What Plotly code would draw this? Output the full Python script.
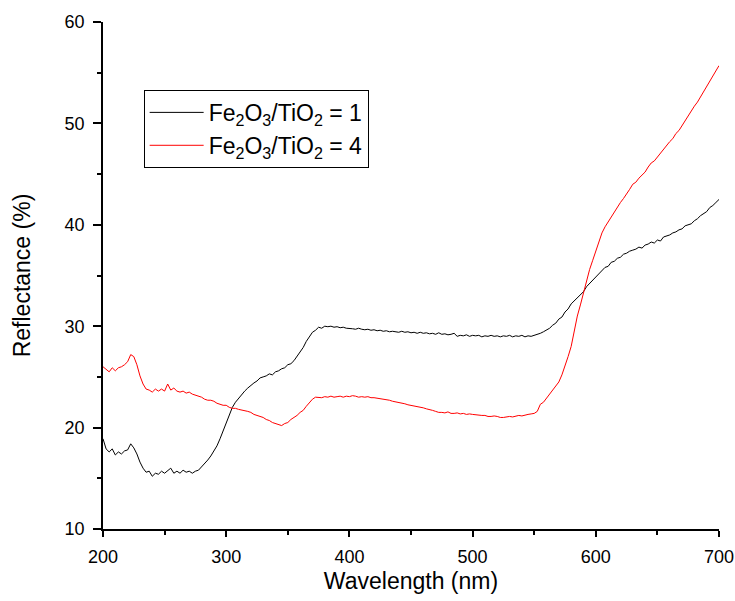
import plotly.graph_objects as go

wavelength = [200 + 2.5 * i for i in range(201)]

refl_ratio1 = [
    18.9, 17.9, 17.6, 17.9, 17.3, 17.6, 17.4, 17.7, 17.8, 18.4, 18.0, 17.4, 16.6, 16.0, 15.6, 15.7, 15.2, 15.5, 15.4, 15.7,
    15.5, 15.8, 16.0, 15.5, 15.7, 15.5, 15.8, 15.6, 15.7, 15.5, 15.7, 15.8, 16.1, 16.4, 16.8, 17.2, 17.7, 18.2, 18.9, 19.7,
    20.5, 21.3, 22.0, 22.5, 22.9, 23.3, 23.6, 23.9, 24.2, 24.4, 24.6, 24.9, 25.0, 25.1, 25.3, 25.2, 25.5, 25.6, 25.8, 25.9,
    26.2, 26.3, 26.6, 27.0, 27.4, 27.9, 28.5, 29.0, 29.4, 29.6, 29.9, 29.8, 30.0, 29.95, 30.0, 29.9, 29.95, 29.85, 29.9, 29.8,
    29.8, 29.75, 29.7, 29.8, 29.7, 29.65, 29.7, 29.6, 29.65, 29.55, 29.6, 29.5, 29.55, 29.45, 29.5, 29.45, 29.4, 29.5, 29.4, 29.45,
    29.35, 29.4, 29.3, 29.4, 29.3, 29.35, 29.25, 29.3, 29.2, 29.35, 29.2, 29.25, 29.15, 29.2, 29.3, 29.0, 29.1, 29.05, 29.15, 29.0,
    29.1, 29.05, 29.1, 28.95, 29.05, 29.0, 29.1, 29.0, 29.05, 28.95, 29.05, 29.0, 29.1, 28.95, 29.05, 29.0, 29.1, 28.95, 29.05, 29.0,
    29.1, 29.15, 29.3, 29.45, 29.6, 29.8, 30.1, 30.3, 30.7, 30.9, 31.4, 31.7, 32.2, 32.5, 32.8, 33.2, 33.4, 33.9, 34.2, 34.5,
    34.8, 35.2, 35.4, 35.8, 35.9, 36.3, 36.4, 36.7, 36.8, 37.1, 37.2, 37.4, 37.5, 37.6, 37.8, 37.7, 38.0, 38.1, 38.3, 38.2,
    38.5, 38.4, 38.8, 38.9, 39.0, 39.2, 39.3, 39.5, 39.6, 39.9, 40.0, 40.1, 40.4, 40.6, 40.9, 41.1, 41.3, 41.7, 41.9, 42.2,
    42.5,
]

refl_ratio4 = [
    26.0, 25.7, 25.5, 25.9, 25.6, 25.9, 26.0, 26.2, 26.5, 27.2, 27.0, 26.2, 25.1, 24.3, 23.8, 23.7, 23.5, 23.8, 23.6, 23.8,
    23.6, 24.3, 23.7, 23.9, 23.6, 23.5, 23.6, 23.4, 23.5, 23.3, 23.2, 23.1, 23.0, 22.8, 22.7, 22.7, 22.6, 22.4, 22.3, 22.2,
    22.2, 22.0, 21.9, 21.9, 21.8, 21.75, 21.7, 21.6, 21.5, 21.3, 21.2, 21.1, 21.0, 20.8, 20.7, 20.5, 20.4, 20.3, 20.2, 20.4,
    20.5, 20.8, 21.0, 21.2, 21.5, 21.7, 22.1, 22.5, 22.8, 23.0, 23.0, 22.95, 23.05, 23.0, 23.1, 23.0, 23.05, 23.1, 23.0, 23.1,
    23.05, 23.15, 23.1, 23.0, 23.05, 23.0, 23.05, 22.95, 22.95, 22.9, 22.9, 22.8, 22.75, 22.7, 22.6, 22.55, 22.5, 22.4, 22.35, 22.25,
    22.2, 22.1, 22.05, 22.0, 21.95, 21.85, 21.8, 21.7, 21.6, 21.5, 21.5, 21.45, 21.55, 21.4, 21.4, 21.45, 21.35, 21.4, 21.3, 21.35,
    21.3, 21.25, 21.25, 21.2, 21.2, 21.1, 21.1, 21.15, 21.1, 21.0, 21.0, 21.05, 21.1, 21.05, 21.15, 21.2, 21.15, 21.25, 21.3, 21.35,
    21.4, 21.6, 22.3, 22.5, 22.9, 23.3, 23.6, 24.0, 24.5, 25.2, 26.0, 27.0, 28.0, 29.5, 31.0, 32.1, 33.3, 34.4, 35.6, 36.5,
    37.4, 38.3, 39.2, 39.8, 40.3, 40.8, 41.3, 41.8, 42.2, 42.6, 43.0, 43.5, 44.0, 44.2, 44.6, 44.9, 45.2, 45.7, 46.1, 46.3,
    46.7, 47.0, 47.4, 47.8, 48.2, 48.5, 49.0, 49.3, 49.8, 50.2, 50.7, 51.2, 51.7, 52.1, 52.6, 53.1, 53.6, 54.1, 54.6, 55.1,
    55.7,
]

series_names = [
    "Fe<sub>2</sub>O<sub>3</sub>/TiO<sub>2</sub> = 1",
    "Fe<sub>2</sub>O<sub>3</sub>/TiO<sub>2</sub> = 4",
]
series_colors = ["#000000", "#ff0000"]

x_ticks = [200, 300, 400, 500, 600, 700]
y_ticks = [10, 20, 30, 40, 50, 60]

fig = go.Figure()
for name, ys, col in zip(series_names, [refl_ratio1, refl_ratio4], series_colors):
    fig.add_trace(go.Scatter(x=wavelength, y=ys, mode="lines", name=name,
                             line=dict(color=col, width=1)))

font_family = "Arial, Liberation Sans, sans-serif"
fig.update_layout(
    width=735, height=601,
    margin=dict(l=103, r=16, t=22, b=72, autoexpand=False),
    paper_bgcolor="white", plot_bgcolor="white",
    font=dict(family=font_family, color="black", size=18),
    showlegend=True,
    legend=dict(x=0.066, y=0.866, xanchor="left", yanchor="top",
                bordercolor="black", borderwidth=1, bgcolor="white",
                font=dict(size=23, family=font_family, color="black"),
                tracegroupgap=0, itemwidth=54),
)
fig.update_xaxes(
    range=[200, 700], tickvals=x_ticks, ticktext=[str(v) for v in x_ticks],
    ticks="outside", ticklen=6, tickwidth=1.5, tickcolor="black",
    showline=True, linewidth=1.5, linecolor="black", mirror=False,
    showgrid=False, zeroline=False, automargin=False,
    minor=dict(dtick=50, ticks="outside", ticklen=4, tickwidth=1.5, tickcolor="black", showgrid=False),
    tickfont=dict(size=18), ticklabelstandoff=5,
    title=dict(text="Wavelength (nm)", font=dict(size=23), standoff=7),
)
fig.update_yaxes(
    range=[10, 60], tickvals=y_ticks, ticktext=[str(v) for v in y_ticks],
    ticks="outside", ticklen=8, tickwidth=1.5, tickcolor="black",
    showline=True, linewidth=1.5, linecolor="black", mirror=False,
    showgrid=False, zeroline=False, automargin=False,
    minor=dict(dtick=5, ticks="outside", ticklen=4, tickwidth=1.5, tickcolor="black", showgrid=False),
    tickfont=dict(size=18), ticklabelstandoff=5,
    title=dict(text="Reflectance (%)", font=dict(size=23), standoff=28),
)

fig.write_html(
    "out.html",
    config={"displayModeBar": False},
    post_script="document.body.style.margin='0px';document.body.style.overflow='hidden';",
)
